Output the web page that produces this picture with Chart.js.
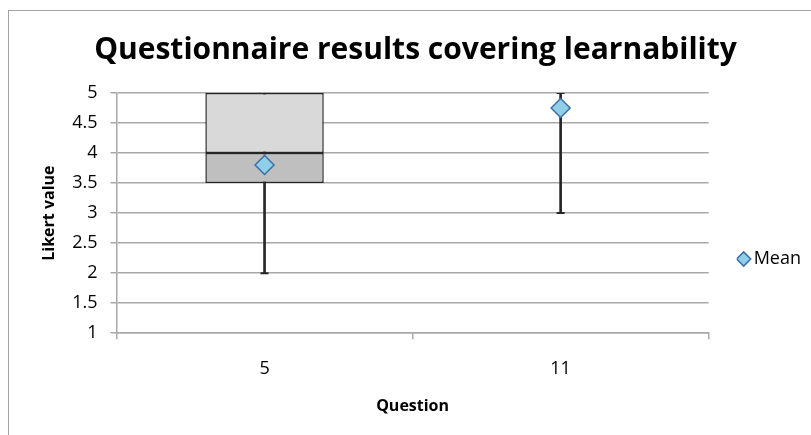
<!DOCTYPE html>
<html>
<head>
<meta charset="utf-8">
<script src="https://cdn.jsdelivr.net/npm/chart.js@4/dist/chart.umd.min.js"></script>
<style>
  html, body { margin: 0; padding: 0; background: #fff; }
  #wrap { position: relative; width: 811px; height: 435px; overflow: hidden; }
  #frame { position: absolute; left: 8px; top: 10px; width: 900px; height: 500px; border: 1.5px solid #a3a3a3; }
  #chart { position: absolute; left: 0; top: 0; }
</style>
</head>
<body>
<div id="wrap">
  <div id="frame"></div>
  <canvas id="chart" width="811" height="435"></canvas>
</div>
<script>
// box plot summary per question
const questions = ['5', '11'];
const minVals    = [2, 3];
const q1Vals     = [3.5, 5];
const medianVals = [4, 5];
const q3Vals     = [5, 5];
const maxVals    = [5, 5];
const meanVals   = [3.8, 4.75];
const yTicks     = [1, 1.5, 2, 2.5, 3, 3.5, 4, 4.5, 5];

const FONT = '"Open Sans", sans-serif';
const DARK = '#262626';
const GRID = '#a8a8a8';

const pairs = (a, b) => a.map((v, i) => [v, b[i]]);
const boxBorder = ctx => {
    const r = ctx.raw;
    return r && r[0] === r[1] ? 0 : 1.5;
};

new Chart(document.getElementById('chart'), {
    type: 'bar',
    data: {
        labels: questions,
        datasets: [
            {
                label: 'Whisker',
                data: pairs(minVals, maxVals),
                backgroundColor: DARK,
                borderWidth: 0,
                grouped: false,
                barThickness: 2,
                order: 4,
            },
            {
                label: 'Q1-Median',
                data: pairs(q1Vals, medianVals),
                backgroundColor: '#bfbfbf',
                borderColor: DARK,
                borderWidth: boxBorder,
                borderSkipped: false,
                grouped: false,
                categoryPercentage: 1,
                barPercentage: 0.4,
                order: 3,
            },
            {
                label: 'Median-Q3',
                data: pairs(medianVals, q3Vals),
                backgroundColor: '#d9d9d9',
                borderColor: DARK,
                borderWidth: boxBorder,
                borderSkipped: false,
                grouped: false,
                categoryPercentage: 1,
                barPercentage: 0.4,
                order: 3,
            },
            {
                type: 'line',
                label: 'Min',
                data: minVals,
                showLine: false,
                pointStyle: 'line',
                pointRadius: 4,
                pointHoverRadius: 4,
                borderColor: DARK,
                borderWidth: 2,
                order: 2,
            },
            {
                type: 'line',
                label: 'Max',
                data: maxVals,
                showLine: false,
                pointStyle: 'line',
                pointRadius: 4,
                pointHoverRadius: 4,
                borderColor: DARK,
                borderWidth: 2,
                order: 2,
            },
            {
                type: 'line',
                label: 'Mean',
                data: meanVals,
                showLine: false,
                pointStyle: 'rectRot',
                pointRadius: 9.5,
                pointHoverRadius: 9.5,
                backgroundColor: '#8fd0e8',
                borderColor: '#3a6fa6',
                borderWidth: 1.5,
                order: 0,
            },
        ],
    },
    options: {
        responsive: false,
        animation: false,
        layout: { padding: { left: 20, right: 0, top: 0, bottom: 19 } },
        plugins: {
            title: {
                display: true,
                text: 'Questionnaire results covering learnability',
                color: '#000',
                font: { family: FONT, size: 30, weight: 'bold' },
                padding: { top: 32, bottom: 25 },
            },
            legend: {
                position: 'right',
                title: { display: true, text: ' ', font: { size: 10 }, padding: { top: 90, bottom: 0 } },
                labels: {
                    filter: item => item.text === 'Mean',
                    usePointStyle: true,
                    boxWidth: 2,
                    boxHeight: 10,
                    color: '#000',
                    font: { family: FONT, size: 18 },
                    padding: 6,
                },
            },
            tooltip: { enabled: false },
        },
        scales: {
            x: {
                grid: { drawOnChartArea: false, color: GRID, lineWidth: 1.5, tickLength: 6 },
                border: { color: GRID, width: 1.5 },
                ticks: { color: '#000', font: { family: FONT, size: 18 }, padding: 19 },
                title: {
                    display: true,
                    text: 'Question',
                    color: '#000',
                    font: { family: FONT, size: 16, weight: 'bold' },
                    padding: { top: -2, bottom: 0 },
                },
            },
            y: {
                min: 1,
                max: 5,
                afterBuildTicks: axis => { axis.ticks = yTicks.map(v => ({ value: v })); },
                grid: { color: GRID, lineWidth: 1.5, tickLength: 6 },
                border: { color: GRID, width: 1.5 },
                ticks: { color: '#000', font: { family: FONT, size: 18 }, padding: 13, callback: v => String(v) },
                title: {
                    display: true,
                    text: 'Likert value',
                    color: '#000',
                    font: { family: FONT, size: 16, weight: 'bold' },
                    padding: { top: 20, bottom: 0 },
                },
            },
            // empty axis that keeps a gap between the plot and the legend
            gap: {
                position: 'right',
                grid: { display: false },
                border: { display: false },
                ticks: { display: false },
                afterFit: s => { s.width = 28; },
            },
        },
    },
});
</script>
</body>
</html>
